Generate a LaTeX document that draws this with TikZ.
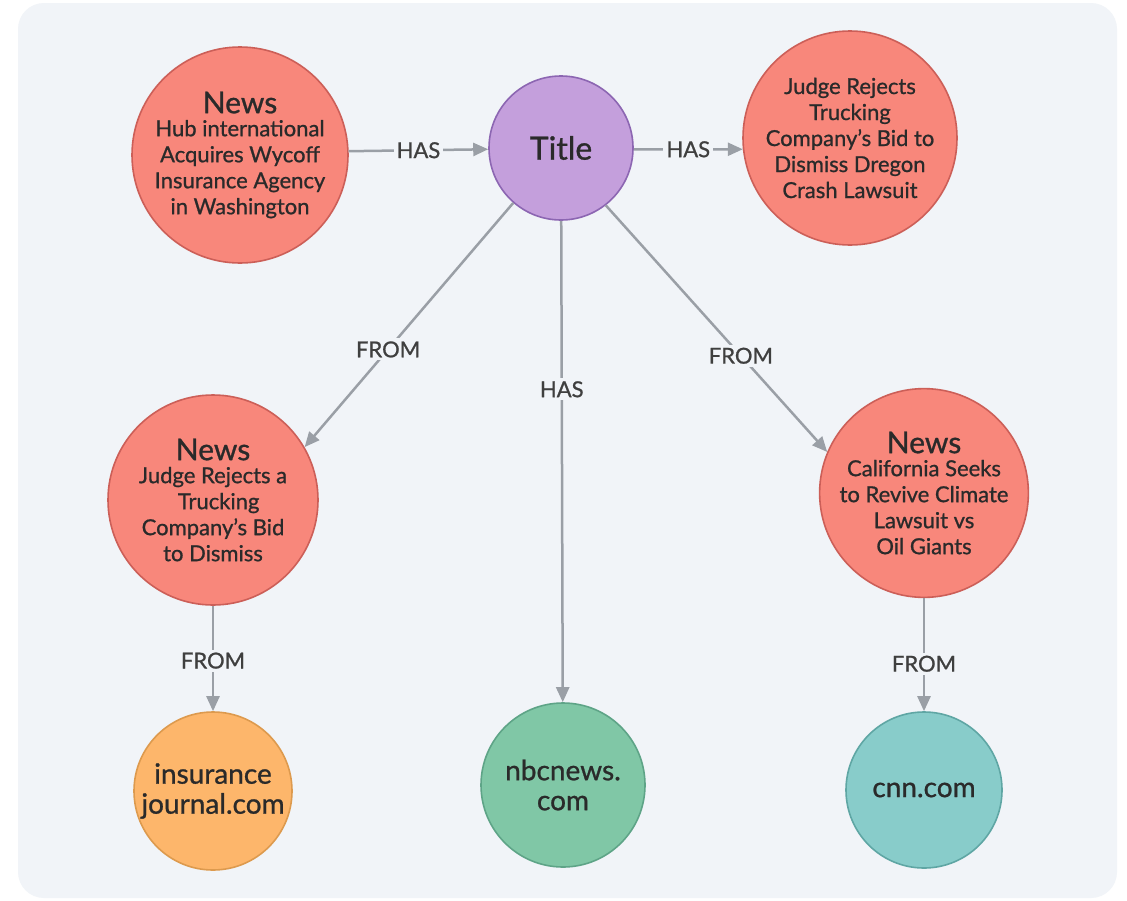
\documentclass[tikz,border=0pt]{standalone}
\usepackage{fontspec}
\setmainfont{Lato}[BoldFont=Lato, BoldFeatures={FakeBold=0.9}]
\usetikzlibrary{arrows.meta}
\definecolor{bgc}{HTML}{F1F4F8}
\definecolor{redf}{HTML}{F8877B}
\definecolor{redd}{HTML}{CC5F58}
\definecolor{purf}{HTML}{C49FDC}
\definecolor{purd}{HTML}{8C66B2}
\definecolor{orf}{HTML}{FDB66B}
\definecolor{ord}{HTML}{DD9A4E}
\definecolor{grf}{HTML}{80C7A6}
\definecolor{grd}{HTML}{5EA487}
\definecolor{tef}{HTML}{88CCCA}
\definecolor{ted}{HTML}{5FA6A4}
\definecolor{edgec}{HTML}{9A9FA6}
\definecolor{txt}{HTML}{2A2A2A}
\tikzset{
  gnode/.style={circle, line width=1.6pt, inner sep=0pt, align=center, text=txt},
  newsnode/.style={gnode, fill=redf, draw=redd},
  body/.style={font=\bfseries\fontsize{22}{26}\selectfont},
  dom/.style={font=\bfseries\fontsize{28}{30}\selectfont},
  rel/.style={draw=edgec, line width=2.5pt, -{Triangle[length=15pt,width=13pt]}},
  lbl/.style={fill=bgc, inner sep=3pt, text=txt!90, font=\bfseries\fontsize{22}{24}\selectfont}
}
\newcommand{\newshead}{{\fontsize{30}{32}\selectfont News}}
\begin{document}
\begin{tikzpicture}[x=1pt,y=-1pt]
\fill[white] (0,0) rectangle (1127,900);
\useasboundingbox (0,0) rectangle (1127,900);
\fill[bgc, rounded corners=26pt] (18,3) rectangle (1117,898);

\node[newsnode, minimum size=216pt, body] (n1) at (240,155)
  {\newshead\\[-3pt]Hub international\\Acquires Wycoff\\Insurance Agency\\in Washington};
\node[gnode, fill=purf, draw=purd, minimum size=144pt, font=\bfseries\fontsize{32}{34}\selectfont] (t) at (561,148) {Title};
\node[newsnode, minimum size=214pt, body] (n2) at (850,138)
  {Judge Rejects\\Trucking\\Company’s Bid to\\Dismiss Dregon\\Crash Lawsuit};
\node[newsnode, minimum size=210pt, body] (n3) at (213,500)
  {\newshead\\[-3pt]Judge Rejects a\\\ \ Trucking\\Company’s Bid\\to Dismiss};
\node[newsnode, minimum size=206pt, body] (n4) at (924,493)
  {\newshead\\[-3pt]California Seeks\\to Revive Climate\\Lawsuit vs\\Oil Giants};
\node[gnode, fill=orf, draw=ord, minimum size=158pt, dom] (ins) at (213,791)
  {insurance\\journal.com};
\node[gnode, fill=grf, draw=grd, minimum size=164pt, dom] (nbc) at (563,785)
  {nbcnews.\\com};
\node[gnode, fill=tef, draw=ted, minimum size=156pt, dom] (cnn) at (924,790)
  {cnn.com};

\draw[rel] (n1.2.6) -- node[lbl] {HAS} (t.181.6);
\draw[rel] (t.-1.6) -- node[lbl] {HAS} (n2.186.4);
\draw[rel] (t.229.4) -- node[lbl, pos=0.6] {FROM} (n3.30);
\draw[rel] (t) -- node[lbl, pos=0.35] {HAS} (nbc);
\draw[rel] (t.-52.7) -- node[lbl, pos=0.61] {FROM} (n4.157);
\draw[rel] (n3) -- node[lbl, pos=0.52] {FROM} (ins);
\draw[rel] (n4) -- node[lbl, pos=0.58] {FROM} (cnn);
\end{tikzpicture}
\end{document}
